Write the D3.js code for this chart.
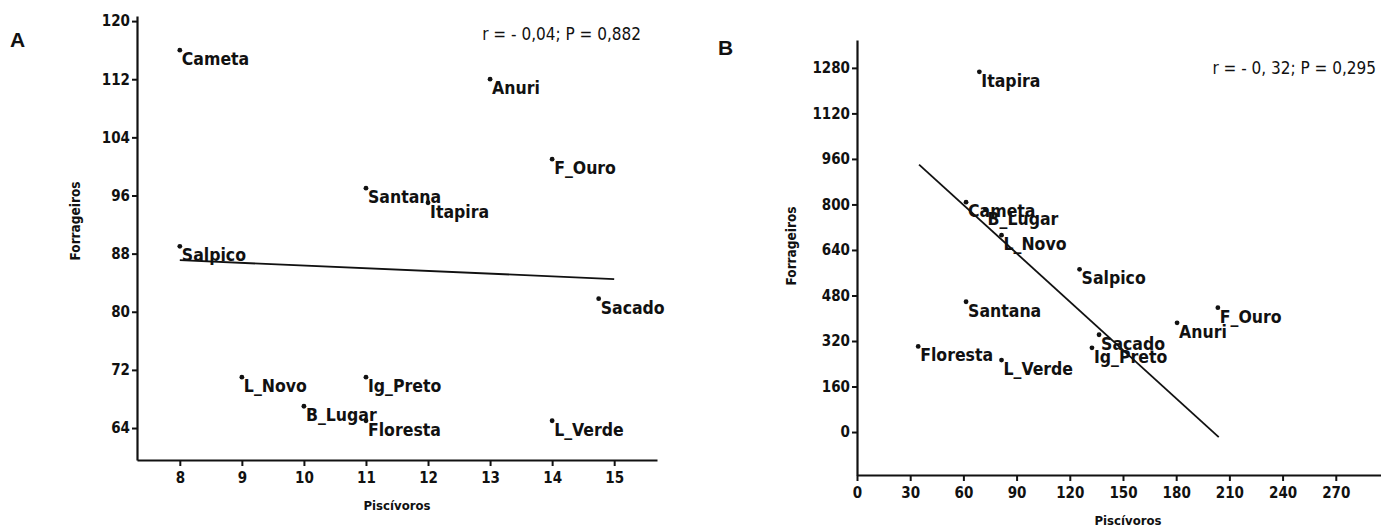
<!DOCTYPE html>
<html>
<head>
<meta charset="utf-8">
<script src="https://cdn.jsdelivr.net/npm/d3@7"></script>
<style>
  body { margin: 0; background: #fff; }
  svg text { font-family: "DejaVu Sans Condensed", "Liberation Sans Narrow", sans-serif; }
</style>
</head>
<body>
<script>
// panel A data
var sitesA = ["Cameta", "Anuri", "F_Ouro", "Santana", "Itapira", "Salpico", "Sacado", "L_Novo", "Ig_Preto", "B_Lugar", "Floresta", "L_Verde"];
var piscA = [8, 13, 14, 11, 12, 8, 14.75, 9, 11, 10, 11, 14];
var forrA = [116, 112, 101, 97, 95, 89, 81.8, 71, 71, 67, 65, 65];
var fitA = [[8, 87.1], [15, 84.5]];
var xTicksA = [8, 9, 10, 11, 12, 13, 14, 15];
var yTicksA = [64, 72, 80, 88, 96, 104, 112, 120];

// panel B data
var sitesB = ["Itapira", "Cameta", "B_Lugar", "L_Novo", "Salpico", "Santana", "F_Ouro", "Anuri", "Sacado", "Ig_Preto", "Floresta", "L_Verde"];
var piscB = [69, 61.5, 72.5, 81.5, 125.5, 61.5, 203.5, 180.5, 136.5, 132.5, 34.5, 81.5];
var forrB = [1266, 808, 782, 692, 572, 458, 437, 384, 342, 296, 301, 253];
var fitB = [[35, 940], [204, -18]];
var xTicksB = [0, 30, 60, 90, 120, 150, 180, 210, 240, 270];
var yTicksB = [0, 160, 320, 480, 640, 800, 960, 1120, 1280];

var width = 1381,
    height = 529;

var svg = d3.select("body").append("svg")
    .attr("width", width)
    .attr("height", height);

function panel(opts) {
    var x = d3.scaleLinear().domain(opts.xDomain).range(opts.xRange);
    var y = d3.scaleLinear().domain(opts.yDomain).range(opts.yRange);
    var g = svg.append("g");

    var xAxis = g.append("g")
        .attr("transform", "translate(0," + opts.yRange[0] + ")")
        .call(d3.axisBottom(x).tickValues(opts.xTicks).tickFormat(d3.format("d"))
            .tickSize(6).tickSizeOuter(0).tickPadding(6));
    var yAxis = g.append("g")
        .attr("transform", "translate(" + opts.xRange[0] + ",0)")
        .call(d3.axisLeft(y).tickValues(opts.yTicks).tickFormat(d3.format("d"))
            .tickSize(5).tickSizeOuter(0).tickPadding(2));

    [xAxis, yAxis].forEach(function(a) {
        a.select(".domain").attr("stroke", "#111").attr("stroke-width", 2.2);
        a.selectAll(".tick line").attr("stroke", "#111").attr("stroke-width", 2);
        a.selectAll(".tick text")
            .attr("fill", "#111")
            .style("font-size", "15px")
            .style("font-weight", "bold");
    });

    // regression line
    g.append("line")
        .attr("x1", x(opts.fit[0][0]))
        .attr("y1", y(opts.fit[0][1]))
        .attr("x2", x(opts.fit[1][0]))
        .attr("y2", y(opts.fit[1][1]))
        .attr("stroke", "#111")
        .attr("stroke-width", 1.8);

    var pts = g.selectAll(".pt")
        .data(opts.sites)
        .enter().append("g")
        .attr("class", "pt")
        .attr("transform", function(d, i) {
            return "translate(" + x(opts.xs[i]) + "," + y(opts.ys[i]) + ")";
        });
    pts.append("circle")
        .attr("r", 2.4)
        .attr("fill", "#111");
    pts.append("text")
        .attr("x", 2)
        .attr("y", 15)
        .attr("fill", "#111")
        .style("font-size", "17.5px")
        .style("font-weight", "bold")
        .text(function(d) { return d; });

    // axis titles
    g.append("text")
        .attr("transform", "translate(" + opts.yTitle[0] + "," + opts.yTitle[1] + ") rotate(-90)")
        .attr("text-anchor", "middle")
        .style("font-size", "13.5px")
        .style("font-weight", "bold")
        .attr("fill", "#111")
        .text("Forrageiros");
    g.append("text")
        .attr("x", opts.xTitle[0])
        .attr("y", opts.xTitle[1])
        .attr("text-anchor", "middle")
        .style("font-size", "13px")
        .style("font-weight", "bold")
        .attr("fill", "#111")
        .text("Piscívoros");

    // stats
    g.append("text")
        .attr("x", opts.stat[0])
        .attr("y", opts.stat[1])
        .attr("text-anchor", "end")
        .style("font-size", "17px")
        .attr("fill", "#111")
        .text(opts.statText);

    // panel letter
    g.append("text")
        .attr("x", opts.letter[0])
        .attr("y", opts.letter[1])
        .style("font-family", "'Liberation Sans', 'DejaVu Sans', sans-serif")
        .style("font-size", "21px")
        .style("font-weight", "bold")
        .attr("fill", "#111")
        .text(opts.letterText);
}

panel({
    sites: sitesA, xs: piscA, ys: forrA, fit: fitA,
    xTicks: xTicksA, yTicks: yTicksA,
    xDomain: [7.31, 15.69], xRange: [137, 657],
    yDomain: [59.6, 120.7], yRange: [460, 16],
    yTitle: [80, 221], xTitle: [397, 510],
    stat: [641, 40], statText: "r = - 0,04; P = 0,882",
    letter: [10, 47], letterText: "A"
});

panel({
    sites: sitesB, xs: piscB, ys: forrB, fit: fitB,
    xTicks: xTicksB, yTicks: yTicksB,
    xDomain: [0, 295.5], xRange: [857, 1381],
    yDomain: [-151, 1378], yRange: [475, 40],
    yTitle: [796, 246], xTitle: [1128, 525],
    stat: [1376, 74], statText: "r = - 0, 32; P = 0,295",
    letter: [718, 55], letterText: "B"
});
</script>
</body>
</html>
